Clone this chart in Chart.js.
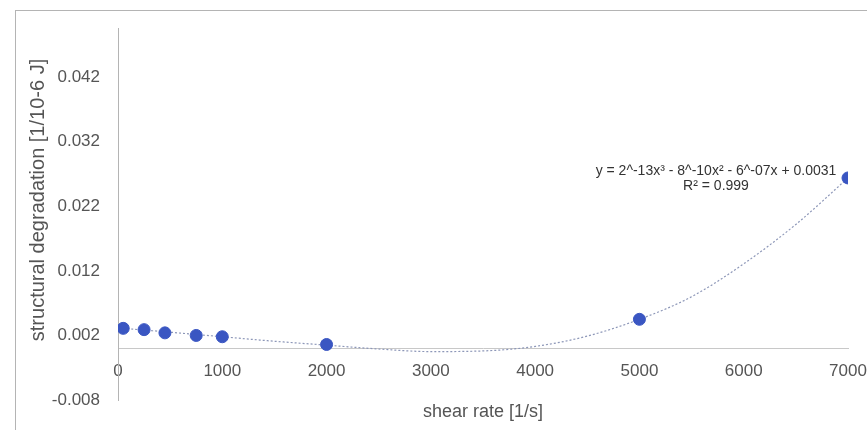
<!DOCTYPE html>
<html>
<head>
<meta charset="utf-8">
<script src="https://cdn.jsdelivr.net/npm/chart.js@4/dist/chart.umd.min.js"></script>
<style>
  body { margin: 0; background: #fff; }
  #wrap { position: relative; width: 867px; height: 430px; }
  #frame { position: absolute; left: 15px; top: 10px; right: 0; bottom: 0;
           border-top: 1px solid #b4b4b4; border-left: 1px solid #b4b4b4; }
  canvas { position: absolute; left: 0; top: 0; }
</style>
</head>
<body>
<div id="wrap">
  <div id="frame"></div>
  <canvas id="myChart" width="867" height="430"></canvas>
</div>
<script>
// measured points
const shearRate = [50, 250, 450, 750, 1000, 2000, 5000, 7000];
const degradation = [0.0031, 0.0029, 0.0024, 0.0020, 0.0018, 0.0006, 0.0045, 0.0264];

// polynomial trendline as drawn in the picture
const trendX = [50, 500, 1000, 1500, 2000, 2500, 3000, 3500, 4000, 4500, 5000, 5500, 6000, 6500, 7000];
const trendY = [0.0031, 0.0025, 0.0018, 0.0011, 0.0005, -0.0001, -0.0005, -0.0004, 0.0003, 0.0019, 0.0045, 0.0080, 0.0131, 0.0192, 0.0264];

const yTicks = [-0.008, 0.002, 0.012, 0.022, 0.032, 0.042];
const xTicks = [0, 1000, 2000, 3000, 4000, 5000, 6000, 7000];

const xTitle = 'shear rate [1/s]';
const yTitle = 'structural degradation [1/10-6 J]';
const equation = ['y = 2^-13x\u00b3 - 8^-10x\u00b2 - 6^-07x + 0.0031', 'R\u00b2 = 0.999'];

const FONT = '"Liberation Sans", Arial, sans-serif';

const textPlugin = {
  id: 'textPlugin',
  afterDraw(chart) {
    const {ctx, chartArea} = chart;
    ctx.save();
    ctx.fillStyle = '#555';
    ctx.textAlign = 'center';
    ctx.textBaseline = 'middle';
    ctx.font = '18px ' + FONT;
    ctx.fillText(xTitle, (chartArea.left + chartArea.right) / 2, 412);
    ctx.save();
    ctx.translate(38, 200);
    ctx.rotate(-Math.PI / 2);
    ctx.font = '20px ' + FONT;
    ctx.fillText(yTitle, 0, 0);
    ctx.restore();
    // trendline equation
    ctx.fillStyle = '#333';
    ctx.font = '14px ' + FONT;
    ctx.fillText(equation[0], 716, 171);
    ctx.fillText(equation[1], 716, 186);
    ctx.restore();
  }
};

new Chart('myChart', {
  type: 'scatter',
  data: {
    datasets: [{
      data: shearRate.map((x, i) => ({x: x, y: degradation[i]})),
      backgroundColor: '#3a56c2',
      borderColor: '#3a56c2',
      pointRadius: 6,
      order: 0
    }, {
      type: 'line',
      data: trendX.map((x, i) => ({x: x, y: trendY[i]})),
      borderColor: '#8d97b8',
      borderWidth: 1.2,
      borderDash: [2, 2],
      pointRadius: 0,
      cubicInterpolationMode: 'monotone',
      fill: false,
      order: 1
    }]
  },
  options: {
    responsive: false,
    animation: false,
    layout: { padding: { left: 0, right: 19, top: 28, bottom: 30 } },
    plugins: { legend: { display: false }, tooltip: { enabled: false } },
    scales: {
      x: {
        type: 'linear',
        position: { y: 0 },
        min: 0,
        max: 7000,
        afterBuildTicks: s => { s.ticks = xTicks.map(v => ({value: v})); },
        afterFit: s => { s.paddingLeft = 0; s.paddingRight = 0; },
        grid: { display: false, drawTicks: false },
        border: { display: true, color: '#c8c8c8', width: 1 },
        ticks: { color: '#555', font: { size: 17, family: FONT }, padding: 13, callback: v => String(v) }
      },
      y: {
        type: 'linear',
        min: -0.008,
        max: 0.0496,
        afterFit: s => { s.width = 118; },
        afterBuildTicks: s => { s.ticks = yTicks.map(v => ({value: v})); },
        grid: { display: false, drawTicks: false },
        border: { display: true, color: '#b4b4b4', width: 1 },
        ticks: {
          color: '#555',
          font: { size: 17, family: FONT },
          padding: 18,
          callback: v => v.toFixed(3)
        }
      }
    }
  },
  plugins: [textPlugin]
});
</script>
</body>
</html>
